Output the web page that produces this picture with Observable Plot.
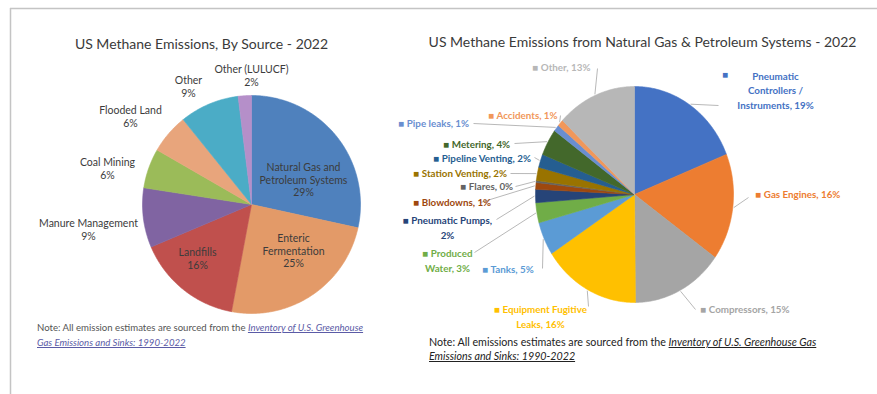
<!DOCTYPE html>
<html><head><meta charset="utf-8">
<script src="https://cdn.jsdelivr.net/npm/d3@7"></script>
<script src="https://cdn.jsdelivr.net/npm/@observablehq/plot@0.6"></script>
<style>
body{margin:0;background:#fff;font-family:Lato,"Open Sans",sans-serif;}
#wrap{position:relative;width:877px;height:394px;overflow:hidden;background:#fff;}
.note{position:absolute;white-space:nowrap;}
.note i{text-decoration:underline;}
#noteL{left:37px;top:320px;font-size:9.6px;line-height:15px;color:#555;}
#noteL i{color:#5b5ba6;}
#noteR{left:429px;top:335px;font-size:10.7px;line-height:14px;color:#222;}
</style></head><body><div id="wrap"></div>
<script>
// ---- Data: US methane emissions by source, 2022 (%)
const sourceCategories = ["Natural Gas and Petroleum Systems","Enteric Fermentation","Landfills","Manure Management","Coal Mining","Flooded Land","Other","Other (LULUCF)"];
const sourceLabelText = ["Natural Gas and\nPetroleum Systems","Enteric\nFermentation","Landfills","Manure Management","Coal Mining","Flooded Land","Other","Other (LULUCF)"];
const sourceShares = [29,25,16,9,6,6,9,2];
const sourceColors = ["#4f81bd","#e39a68","#c0504d","#8064a2","#9bbb59","#e8a57c","#4bacc6","#b58fc9"];

// ---- Data: natural gas & petroleum systems, 2022 (%)
const ngCategories = ["Pneumatic Controllers / Instruments","Gas Engines","Compressors","Equipment Fugitive Leaks","Tanks","Produced Water","Pneumatic Pumps","Blowdowns","Flares","Station Venting","Pipeline Venting","Metering","Pipe leaks","Accidents","Other"];
const ngLabelText = ["Pneumatic\nControllers /\nInstruments","Gas Engines","Compressors","Equipment Fugitive\nLeaks","Tanks","Produced\nWater","Pneumatic Pumps,\n","Blowdowns","Flares","Station Venting","Pipeline Venting","Metering","Pipe leaks","Accidents","Other"];
const ngShares = [19,16,15,16,5,3,2,1,0.3,2,2,4,1,1,13];
const ngColors = ["#4472c4","#ed7d31","#a5a5a5","#ffc000","#5b9bd5","#70ad47","#264478","#9e480e","#636363","#997300","#255e91","#43682b","#698ed0","#f1975a","#b7b7b7"];

const titles = ["US Methane Emissions, By Source - 2022","US Methane Emissions from Natural Gas & Petroleum Systems - 2022"];

// ---- Layout (pixels)
const W = 877, H = 394;
const LEFT = {cx:251, cy:204, rx:109, ry:109};
const RIGHT = {cx:634, cy:194, rx:99, ry:108};
const leftLabelPos = [[303,179],[293,250],[197,258],[88,229],[107,168],[130,116],[188,86],[251,75]];
const rightLabelPos = [[775,89,"middle"],[755,193,"start"],[700,308,"start"],[540,315,"middle"],[482,268,"start"],[447,259,"middle"],[447,226,"middle"],[413,201,"start"],[460,185,"start"],[413,172,"start"],[433,157,"start"],[443,143,"start"],[398,122,"start"],[488,114,"start"],[532,66,"start"]];
const rightLeaderPos = [[718,105],[748,197],[695,309],[588,306],[542,268],[474,252],[496,219],[480,202],[515,186],[510,173],[534,157],[514,143],[473,123],[560,115],[597,68]];

function pieGeometry(values, colors, g, key) {
  const arcs = d3.pie().sort(null).value(d => d)(values);
  const pts = [], mids = [];
  arcs.forEach((a, i) => {
    const n = Math.max(3, Math.ceil((a.endAngle - a.startAngle) / 0.01));
    pts.push({k: key + i, c: colors[i], x: g.cx, y: g.cy});
    for (let j = 0; j <= n; j++) {
      const t = a.startAngle + (a.endAngle - a.startAngle) * j / n;
      pts.push({k: key + i, c: colors[i], x: g.cx + g.rx * Math.sin(t), y: g.cy - g.ry * Math.cos(t)});
    }
    pts.push({k: key + i, c: colors[i], x: g.cx, y: g.cy});
    const m = (a.startAngle + a.endAngle) / 2;
    mids.push({x: g.cx + g.rx * 1.01 * Math.sin(m), y: g.cy - g.ry * 1.01 * Math.cos(m)});
  });
  return {pts, mids};
}

const L = pieGeometry(sourceShares, sourceColors, LEFT, "L");
const R = pieGeometry(ngShares, ngColors, RIGHT, "R");

const leftLabels = sourceCategories.map((c, i) => ({
  text: `${sourceLabelText[i]}\n${sourceShares[i]}%`,
  x: leftLabelPos[i][0], y: leftLabelPos[i][1]
}));

const rightLabels = ngCategories.map((c, i) => {
  const name = ngLabelText[i];
  const pct = Math.round(ngShares[i]);
  let text = name.endsWith("\n") ? `■ ${name}${pct}%` : `■ ${name}, ${pct}%`;
  if (i === 0) text = `${name}, ${pct}%`;
  return {text, x: rightLabelPos[i][0], y: rightLabelPos[i][1], anchor: rightLabelPos[i][2], c: ngColors[i]};
});
const leaders = ngCategories.map((c, i) => ({x1: rightLeaderPos[i][0], y1: rightLeaderPos[i][1], x2: R.mids[i].x, y2: R.mids[i].y}));

const rlStyle = {x: "x", y: "y", text: "text", fill: "c", fontSize: 9.8, fontWeight: "bold", lineHeight: 1.5};

const chart = Plot.plot({
  width: W, height: H, margin: 0,
  x: {domain: [0, W], range: [0, W], axis: null},
  y: {domain: [0, H], range: [0, H], axis: null},
  color: {type: "identity"},
  style: {fontFamily: "Lato, 'Open Sans', sans-serif", background: "white"},
  marks: [
    Plot.ruleY([8], {x1: 10, x2: W, stroke: "#c4c4c4", strokeWidth: 1.5}),
    Plot.ruleX([10], {y1: 8, y2: H, stroke: "#c4c4c4", strokeWidth: 1.5}),
    Plot.line(L.pts, {x: "x", y: "y", z: "k", fill: "c", stroke: "c", strokeWidth: 0.6, curve: "linear"}),
    Plot.line(R.pts, {x: "x", y: "y", z: "k", fill: "c", stroke: "c", strokeWidth: 0.6, curve: "linear"}),
    Plot.text([titles[0]], {x: 201, y: 44, text: d => d, fontSize: 14, fill: "#3a3a3a"}),
    Plot.text([titles[1]], {x: 642, y: 42, text: d => d, fontSize: 14, fill: "#3a3a3a"}),
    Plot.text(leftLabels, {x: "x", y: "y", text: "text", fontSize: 10.5, lineHeight: 1.22, fill: "#3c3c3c"}),
    Plot.link(leaders, {x1: "x1", y1: "y1", x2: "x2", y2: "y2", stroke: "#a6a6a6", strokeWidth: 0.8}),
    Plot.text(rightLabels.filter(d => d.anchor === "start"), {...rlStyle, textAnchor: "start"}),
    Plot.text(rightLabels.filter(d => d.anchor === "middle"), {...rlStyle, textAnchor: "middle"}),
    Plot.text([ngColors[0]], {x: 725, y: 74, text: () => "■", fill: d => d, fontSize: 9.8})
  ]
});
document.getElementById("wrap").appendChild(chart);

const nL = document.createElement("div");
nL.className = "note"; nL.id = "noteL";
nL.innerHTML = 'Note: All emission estimates are sourced from the <i>Inventory of U.S. Greenhouse</i><br><i>Gas Emissions and Sinks: 1990-2022</i>';
document.getElementById("wrap").appendChild(nL);
const nR = document.createElement("div");
nR.className = "note"; nR.id = "noteR";
nR.innerHTML = 'Note: All emissions estimates are sourced from the <i>Inventory of U.S. Greenhouse Gas</i><br><i>Emissions and Sinks: 1990-2022</i>';
document.getElementById("wrap").appendChild(nR);
</script></body></html>
